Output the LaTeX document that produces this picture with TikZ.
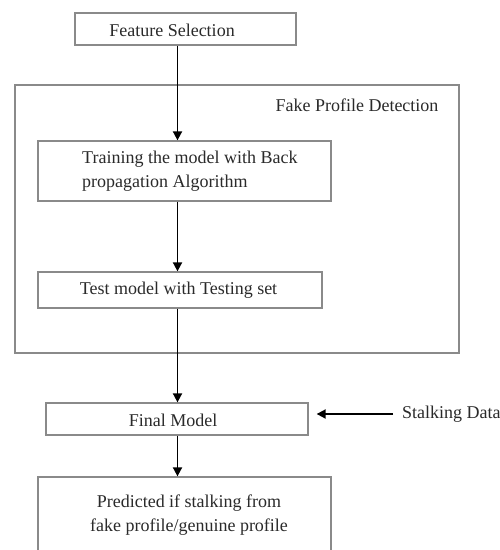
\documentclass[tikz,border=0pt]{standalone}
\usepackage{fontspec}
\setmainfont{Liberation Serif}
\usetikzlibrary{arrows.meta}
\definecolor{boxgray}{HTML}{8A8A8A}
\definecolor{txtgray}{HTML}{2A2A2A}
\begin{document}
\begin{tikzpicture}[x=1pt,y=1pt,
  box/.style={draw=boxgray, line width=1.3pt, rectangle, inner sep=0pt},
  lbl/.style={text=txtgray, font=\fontsize{18}{24.5}\selectfont, inner sep=0pt},
  flow/.style={-{Triangle[length=9pt,width=9pt]}, line width=1.8pt, black}]
\useasboundingbox (0,0) rectangle (500,-550);
\clip (0,0) rectangle (500,-550);
\fill[white] (0,0) rectangle (500,-550);
\coordinate (ax) at (177.5,0);
% boxes
\node[box, minimum width=221pt, minimum height=32pt] (fs) at (185.5,-29) {};
\node[box, minimum width=444pt, minimum height=268pt] (outer) at (237,-219) {};
\node[box, minimum width=293pt, minimum height=60pt] (train) at (184.5,-171) {};
\node[box, minimum width=284pt, minimum height=36pt] (test) at (180,-290) {};
\node[box, minimum width=262pt, minimum height=32pt] (final) at (177,-419) {};
\node[box, minimum width=293pt, minimum height=100pt] (pred) at (184.5,-527) {};
% texts
\node[lbl] (fst) at (172,-30) {Feature Selection};
\node[lbl] (fpd) at (357,-105) {Fake Profile Detection};
\node[lbl, align=left, anchor=west] (trt) at (82,-171) {Training the model with Back\\propagation Algorithm};
\node[lbl] (tet) at (178.5,-290) {Test model with Testing set};
\node[lbl] (fmt) at (173,-420) {Final Model};
\node[lbl, align=center] (prt) at (189,-515) {Predicted if stalking from\\fake profile/genuine profile};
\node[lbl, anchor=west] (sd) at (402,-414) {Stalking Data};
% arrows
\draw[flow] (fs.south -| ax) -- (train.north -| ax);
\draw[flow] (train.south -| ax) -- (test.north -| ax);
\draw[flow] (test.south -| ax) -- (final.north -| ax);
\draw[flow] (final.south -| ax) -- (pred.north -| ax);
\draw[flow, shorten <=9pt, shorten >=8pt] (sd.west) -- (sd.west -| final.east);
\end{tikzpicture}
\end{document}
